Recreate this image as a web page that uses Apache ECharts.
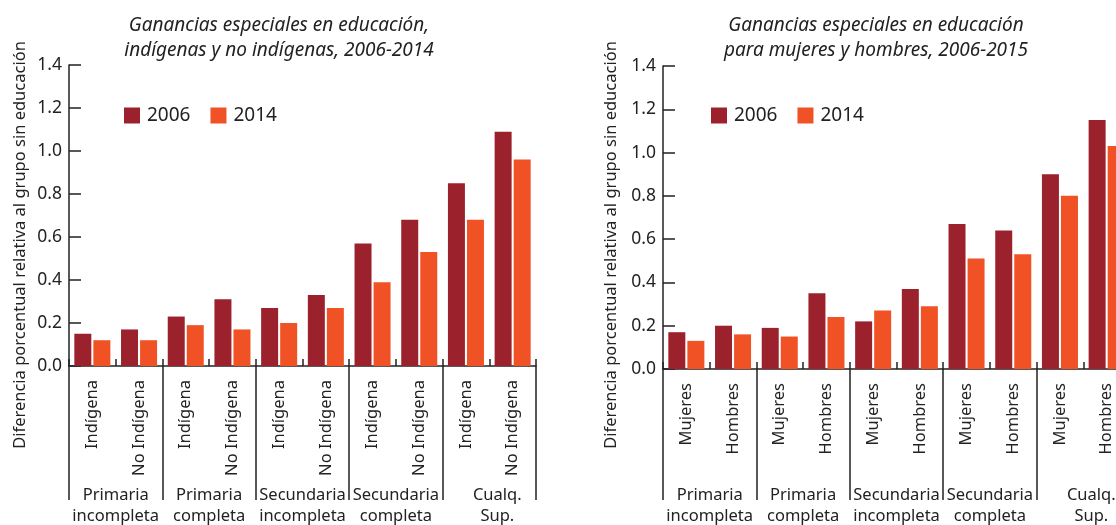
<!DOCTYPE html>
<html>
<head>
<meta charset="utf-8">
<script src="https://cdn.jsdelivr.net/npm/echarts@6/dist/echarts.min.js"></script>
<style>
html,body{margin:0;padding:0;background:#fff;overflow:hidden;width:1116px;height:525px;}
#c{width:1150px;height:525px;}
</style>
</head>
<body>
<div id="c"></div>
<script>
// ---- data ----
const groups = ['Primaria\nincompleta', 'Primaria\ncompleta', 'Secundaria\nincompleta', 'Secundaria\ncompleta', 'Cualq.\nSup.'];
const leftCategories = ['Indígena', 'No Indígena', 'Indígena', 'No Indígena', 'Indígena', 'No Indígena', 'Indígena', 'No Indígena', 'Indígena', 'No Indígena'];
const rightCategories = ['Mujeres', 'Hombres', 'Mujeres', 'Hombres', 'Mujeres', 'Hombres', 'Mujeres', 'Hombres', 'Mujeres', 'Hombres'];
const seriesNames = ['2006', '2014'];
const left2006 = [0.15, 0.17, 0.23, 0.31, 0.27, 0.33, 0.57, 0.68, 0.85, 1.09];
const left2014 = [0.12, 0.12, 0.19, 0.17, 0.20, 0.27, 0.39, 0.53, 0.68, 0.96];
const right2006 = [0.17, 0.20, 0.19, 0.35, 0.22, 0.37, 0.67, 0.64, 0.90, 1.15];
const right2014 = [0.13, 0.16, 0.15, 0.24, 0.27, 0.29, 0.51, 0.53, 0.80, 1.03];
const leftTitle = 'Ganancias especiales en educación,\nindígenas y no indígenas, 2006-2014';
const rightTitle = 'Ganancias especiales en educación\npara mujeres y hombres, 2006-2015';
const yName = 'Diferencia porcentual relativa al grupo sin educación';

// ---- style ----
const FONT = '"Noto Sans", sans-serif';
const C2006 = '#9B222D';
const C2014 = '#F05226';
const INK = '#222';

const chart = echarts.init(document.getElementById('c'));

function groupData() {
  return groups.map((g, i) => i === groups.length - 1 ? { value: g, textStyle: { padding: [0, 0, 0, 16] } } : g);
}

function mainX(gridIndex, cats) {
  return {
    type: 'category', gridIndex, data: cats, position: 'bottom',
    axisLine: { show: true, lineStyle: { color: INK, width: 1.5 } },
    axisTick: { show: true, inside: true, length: 7, interval: 0, lineStyle: { color: INK, width: 1.5 } },
    axisLabel: { interval: 0, rotate: 90, margin: 14, fontFamily: FONT, fontSize: 16.5, color: INK, padding: [0, 0, 12, 0] },
    splitLine: { show: false }
  };
}
function groupX(gridIndex, labelMargin, tickLen) {
  return {
    type: 'category', gridIndex, data: groupData(), position: 'bottom',
    axisLine: { show: false },
    axisTick: { show: true, length: tickLen, interval: 0, lineStyle: { color: INK, width: 1.5 } },
    axisLabel: { interval: 0, margin: labelMargin, fontFamily: FONT, fontSize: 16.5, lineHeight: 21, color: INK },
    splitLine: { show: false }
  };
}
function yAx(gridIndex) {
  return {
    type: 'value', gridIndex, min: 0, max: 1.4, interval: 0.2,
    axisLine: { show: true, lineStyle: { color: INK, width: 1.5 } },
    axisTick: { show: true, inside: true, length: 12, lineStyle: { color: INK, width: 1.5 } },
    axisLabel: { margin: 7, fontFamily: FONT, fontSize: 17.5, color: INK, formatter: v => v.toFixed(1) },
    splitLine: { show: false }
  };
}
function bars(name, data, xi, yi, color) {
  return { type: 'bar', name, data, xAxisIndex: xi, yAxisIndex: yi, barWidth: 17, barGap: '12%', itemStyle: { color } };
}

const titleStyle = { fontFamily: FONT, fontStyle: 'italic', fontSize: 19, lineHeight: 25, fill: INK };

chart.setOption({
  animation: false,
  grid: [
    { left: 69, top: 65, width: 467, height: 301, outerBoundsMode: 'none' },
    { left: 663, top: 66, width: 467, height: 303, outerBoundsMode: 'none' }
  ],
  xAxis: [mainX(0, leftCategories), groupX(0, 119, 134), mainX(1, rightCategories), groupX(1, 116, 131)],
  yAxis: [yAx(0), yAx(1)],
  legend: [
    { left: 124, top: 106, padding: 0, itemWidth: 16, itemHeight: 16, itemGap: 20, icon: 'rect', data: seriesNames,
      textStyle: { fontFamily: FONT, fontSize: 19, color: INK, padding: [0, 0, 0, 2] } },
    { left: 711, top: 106, padding: 0, itemWidth: 16, itemHeight: 16, itemGap: 20, icon: 'rect', data: seriesNames,
      textStyle: { fontFamily: FONT, fontSize: 19, color: INK, padding: [0, 0, 0, 2] } }
  ],
  series: [
    bars(seriesNames[0], left2006, 0, 0, C2006),
    bars(seriesNames[1], left2014, 0, 0, C2014),
    bars(seriesNames[0], right2006, 2, 1, C2006),
    bars(seriesNames[1], right2014, 2, 1, C2014)
  ],
  graphic: [
    { type: 'text', x: 279, y: 38, style: Object.assign({ text: leftTitle, textAlign: 'center', textVerticalAlign: 'middle' }, titleStyle) },
    { type: 'text', x: 876, y: 38, style: Object.assign({ text: rightTitle, textAlign: 'center', textVerticalAlign: 'middle' }, titleStyle) },
    { type: 'text', x: 20, y: 245, rotation: Math.PI / 2, style: { text: yName, textAlign: 'center', textVerticalAlign: 'middle', fontFamily: FONT, fontSize: 16.5, fill: INK } },
    { type: 'text', x: 611, y: 245, rotation: Math.PI / 2, style: { text: yName, textAlign: 'center', textVerticalAlign: 'middle', fontFamily: FONT, fontSize: 16.5, fill: INK } }
  ]
});
</script>
</body>
</html>
